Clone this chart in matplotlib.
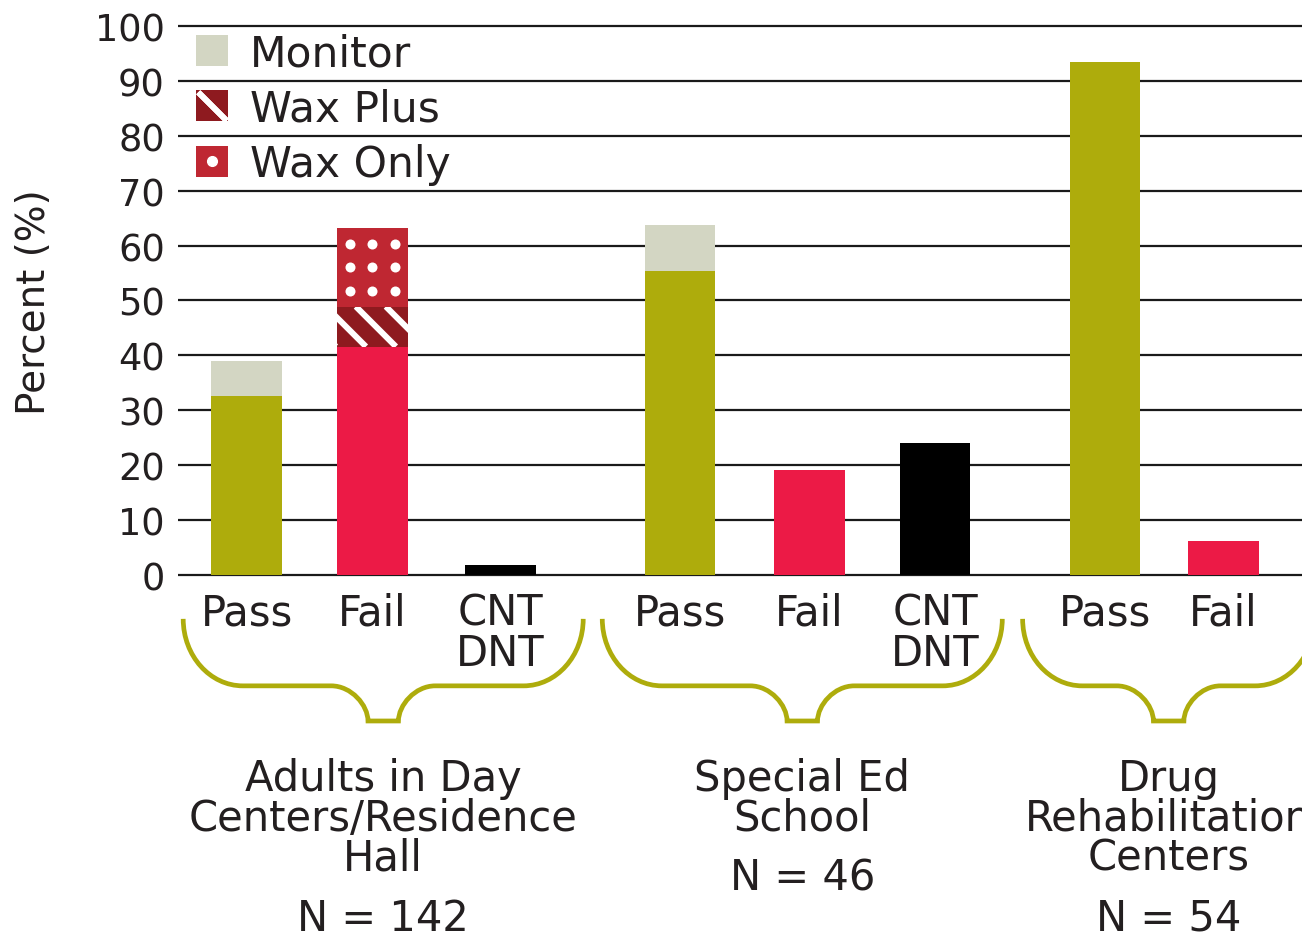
import numpy as np
import matplotlib.pyplot as plt
from matplotlib.path import Path
from matplotlib.patches import PathPatch, Patch
from matplotlib.lines import Line2D

# values (percent)
groups = ["Adults in Day\nCenters/Residence\nHall", "Special Ed\nSchool",
          "Drug\nRehabilitation\nCenters"]
group_n = [142, 46, 54]
bar_names = [["Pass", "Fail", "CNT\nDNT"], ["Pass", "Fail", "CNT\nDNT"], ["Pass", "Fail"]]

pass_pct = [32.6, 55.4, 93.5]
monitor_pct = [6.4, 8.4, 0.0]
fail_pct = [41.6, 19.1, 6.2]
wax_plus_pct = [7.3, 0.0, 0.0]
wax_only_pct = [14.3, 0.0, 0.0]
cnt_dnt_pct = [1.9, 24.0]   # drug rehab group has no CNT/DNT bar

# layout
bar_x = [[0, 0.99, 2.0], [3.41, 4.43, 5.42], [6.76, 7.69]]
bar_w = 0.555
brace_pad = [(0.5, 0.65), (0.61, 0.53), (0.65, 0.72)]   # left / right overhang

OLIVE = "#AEAC0C"
MONITOR = "#D3D6C3"
FAIL = "#EC1A46"
WAXPLUS = "#8E1A1F"
WAXONLY = "#BF2732"
TEXT = "#231F20"

plt.rcParams['font.family'] = ['DejaVu Sans']
plt.rcParams['text.color'] = TEXT

fig = plt.figure(figsize=(13.02, 9.37), dpi=100)
ax = fig.add_axes([178 / 1302, 1 - 579.8 / 937, 1 - 178 / 1302, 555 / 937])
ax.set_xlim(-0.541, 8.31)
ax.set_ylim(-0.7, 100.4)

bb = ax.get_window_extent()
ppx = bb.width / np.diff(ax.get_xlim())[0]
ppy = bb.height / np.diff(ax.get_ylim())[0]


def add_stripes(rect):
    x0, y0 = rect.get_x(), rect.get_y()
    h = rect.get_height()
    dx = h * ppy / ppx
    for k in range(-3, 4):
        xt = x0 + 0.147 + k * 0.236
        ln, = ax.plot([xt, xt + dx], [y0 + h, y0], color="white", lw=4.3,
                      solid_capstyle="butt", zorder=3)
        ln.set_clip_path(rect)


def add_dots(rect):
    cx = rect.get_x() + rect.get_width() / 2
    cy = rect.get_y() + rect.get_height() / 2
    xs = cx + np.array([-1, 0, 1]) * 22.5 / ppx
    ys = cy + np.array([-1, 0, 1]) * 23.5 / ppy
    gx, gy = np.meshgrid(xs, ys)
    ax.scatter(gx.ravel(), gy.ravel(), s=52, color="white", lw=0, zorder=3)


for g in range(len(groups)):
    xp, xf = bar_x[g][0], bar_x[g][1]
    ax.bar(xp, pass_pct[g], bar_w, color=OLIVE)
    if monitor_pct[g] > 0:
        ax.bar(xp, monitor_pct[g], bar_w, bottom=pass_pct[g], color=MONITOR)
    ax.bar(xf, fail_pct[g], bar_w, color=FAIL)
    if wax_plus_pct[g] > 0:
        r = ax.bar(xf, wax_plus_pct[g], bar_w, bottom=fail_pct[g], color=WAXPLUS)[0]
        add_stripes(r)
    if wax_only_pct[g] > 0:
        r = ax.bar(xf, wax_only_pct[g], bar_w, bottom=fail_pct[g] + wax_plus_pct[g],
                   color=WAXONLY)[0]
        add_dots(r)
    if g < len(cnt_dnt_pct):
        ax.bar(bar_x[g][2], cnt_dnt_pct[g], bar_w, color="black")

# braces + group labels under the axis
y_top, y_mid, y_tip = -8.0, -20.2, -26.6
rx, nx, nb = 0.47, 0.41, 0.12
k = 0.552
for g in range(len(groups)):
    L = bar_x[g][0] - brace_pad[g][0]
    R = bar_x[g][-1] + brace_pad[g][1]
    c = (L + R) / 2
    verts = [
        (L, y_top),
        (L, y_top + k * (y_mid - y_top)), (L + rx * (1 - k), y_mid), (L + rx, y_mid),
        (c - nx, y_mid),
        (c - nx + k * (nx - nb), y_mid), (c - nb, y_mid + k * (y_tip - y_mid)), (c - nb, y_tip),
        (c + nb, y_tip),
        (c + nb, y_mid + k * (y_tip - y_mid)), (c + nx - k * (nx - nb), y_mid), (c + nx, y_mid),
        (R - rx, y_mid),
        (R - rx * (1 - k), y_mid), (R, y_top + k * (y_mid - y_top)), (R, y_top),
    ]
    codes = ([Path.MOVETO] + [Path.CURVE4] * 3 + [Path.LINETO] + [Path.CURVE4] * 3
             + [Path.LINETO] + [Path.CURVE4] * 3 + [Path.LINETO] + [Path.CURVE4] * 3)
    ax.add_patch(PathPatch(Path(verts, codes), fill=False, edgecolor=OLIVE, lw=3.4,
                           clip_on=False, capstyle="butt"))
    name = ax.text(c, -33.2, groups[g], ha="center", va="top", fontsize=30,
                   linespacing=0.93, clip_on=False)
    ax.annotate("N = %d" % group_n[g], xy=(0.5, 0), xycoords=name, xytext=(0, -13),
                textcoords="offset points", ha="center", va="top", fontsize=30)

ticks = [x for xs in bar_x for x in xs]
labels = [n for ns in bar_names for n in ns]
ax.set_xticks(ticks, labels)
for lab in ax.get_xticklabels():
    lab.set_linespacing(0.95)
ax.set_yticks(range(0, 101, 10))
ax.tick_params(axis="x", length=0, pad=9, labelsize=30, labelcolor=TEXT)
ax.tick_params(axis="y", length=0, pad=9.4, labelsize=26.5, labelcolor=TEXT)
ax.set_ylabel("Percent (%)", fontsize=28, labelpad=30, color=TEXT)

ax.grid(axis="y", color="#1a1a1a", lw=1.6)
ax.set_axisbelow(True)
for s in ax.spines.values():
    s.set_visible(False)

# legend
h_mon = Patch(facecolor=MONITOR)
h_wp = (Patch(facecolor=WAXPLUS),
        Line2D([], [], marker=(2, 2, 45), markersize=29, markeredgewidth=4,
               color="white", linestyle="none"))
h_wo = (Patch(facecolor=WAXONLY),
        Line2D([], [], marker="o", markersize=7, color="white", linestyle="none"))
ax.legend([h_mon, h_wp, h_wo], ["Monitor", "Wax Plus", "Wax Only"],
          loc="upper left", bbox_to_anchor=(0.016, 0.985), frameon=False,
          fontsize=30.5, handlelength=0.755, handleheight=0.755,
          handletextpad=0.52, labelspacing=0.32, borderpad=0, borderaxespad=0)

fig.savefig("out.png", dpi=100)
